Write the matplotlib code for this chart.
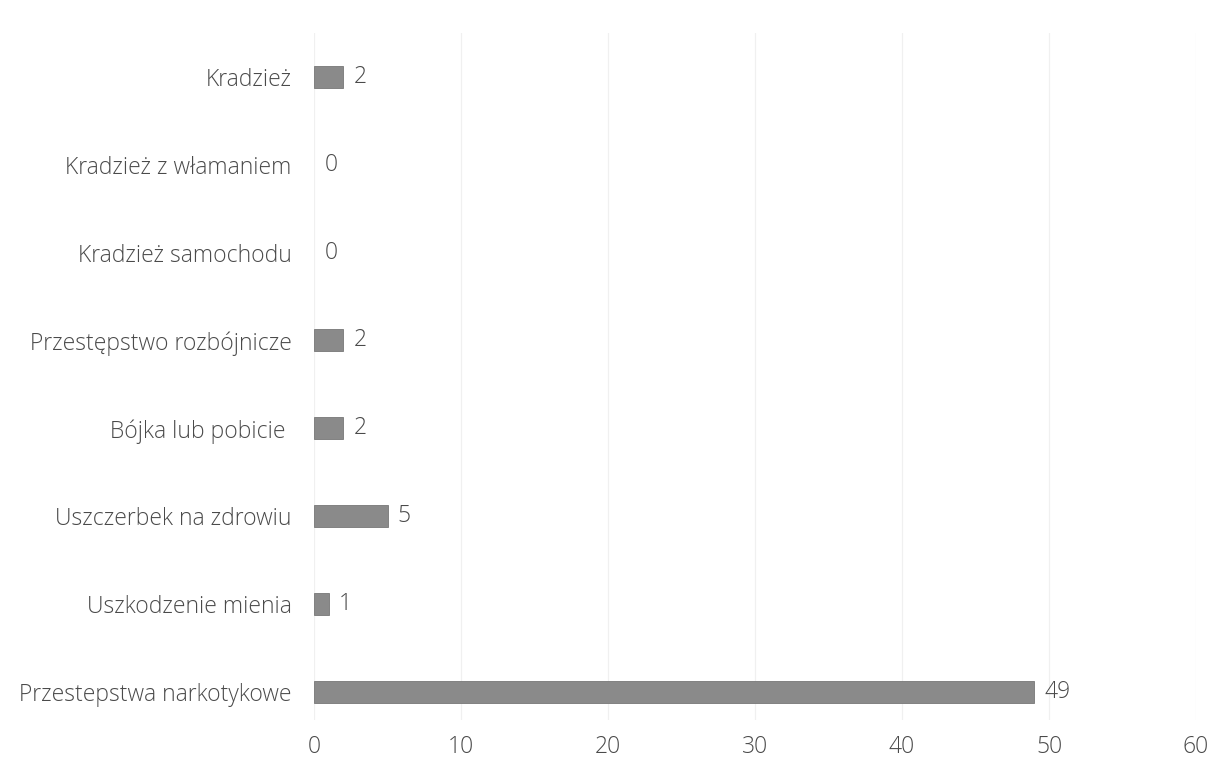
import matplotlib.pyplot as plt
import numpy as np

# Dane (od dołu do góry, tak jak rysuje barh)
kategorie = [
    "Przestepstwa narkotykowe",
    "Uszkodzenie mienia",
    "Uszczerbek na zdrowiu",
    "Bójka lub pobicie ",
    "Przestępstwo rozbójnicze",
    "Kradzież samochodu",
    "Kradzież z włamaniem",
    "Kradzież",
]
wartosci = [49, 1, 5, 2, 2, 0, 0, 2]
ticki_x = [0, 10, 20, 30, 40, 50, 60]

KOLOR_TEKSTU = "#4a4a4a"
KOLOR_SLUPKA = "#8a8a8a"
ROZMIAR = 16.5

plt.rcParams["font.family"] = ["Open Sans", "DejaVu Sans"]

fig = plt.figure(figsize=(12.09, 7.58), dpi=100)
ax = fig.add_axes([314 / 1209, 1 - 720 / 758, (1196 - 314) / 1209, (720 - 33) / 758])

y = np.arange(len(kategorie))
barras = ax.barh(y, wartosci, height=0.25, color=KOLOR_SLUPKA,
                 edgecolor="#777777", linewidth=0.6, zorder=3)
for barra, valor in zip(barras, wartosci):
    if valor == 0:
        barra.set_linewidth(0)

for barra, valor in zip(barras, wartosci):
    ax.text(barra.get_width() + 0.7, barra.get_y() + barra.get_height() / 2,
            str(valor), va="center", ha="left", fontsize=ROZMIAR,
            color=KOLOR_TEKSTU, fontweight="light")

ax.set_xlim(0, 60)
ax.set_ylim(-0.32, 7.5)
ax.set_xticks(ticki_x)
ax.set_xticklabels([str(t) for t in ticki_x], fontsize=ROZMIAR, color=KOLOR_TEKSTU,
                   fontweight="light")
ax.set_yticks(y)
ax.set_yticklabels(kategorie, fontsize=ROZMIAR, color=KOLOR_TEKSTU, fontweight="light")
ax.tick_params(axis="both", length=0)
ax.tick_params(axis="y", pad=16)
ax.tick_params(axis="x", pad=11)

ax.grid(axis="x", color="#f0f0f0", linewidth=0.9, zorder=0)
for lado in ax.spines.values():
    lado.set_visible(False)

fig.savefig("out.png", dpi=100)
